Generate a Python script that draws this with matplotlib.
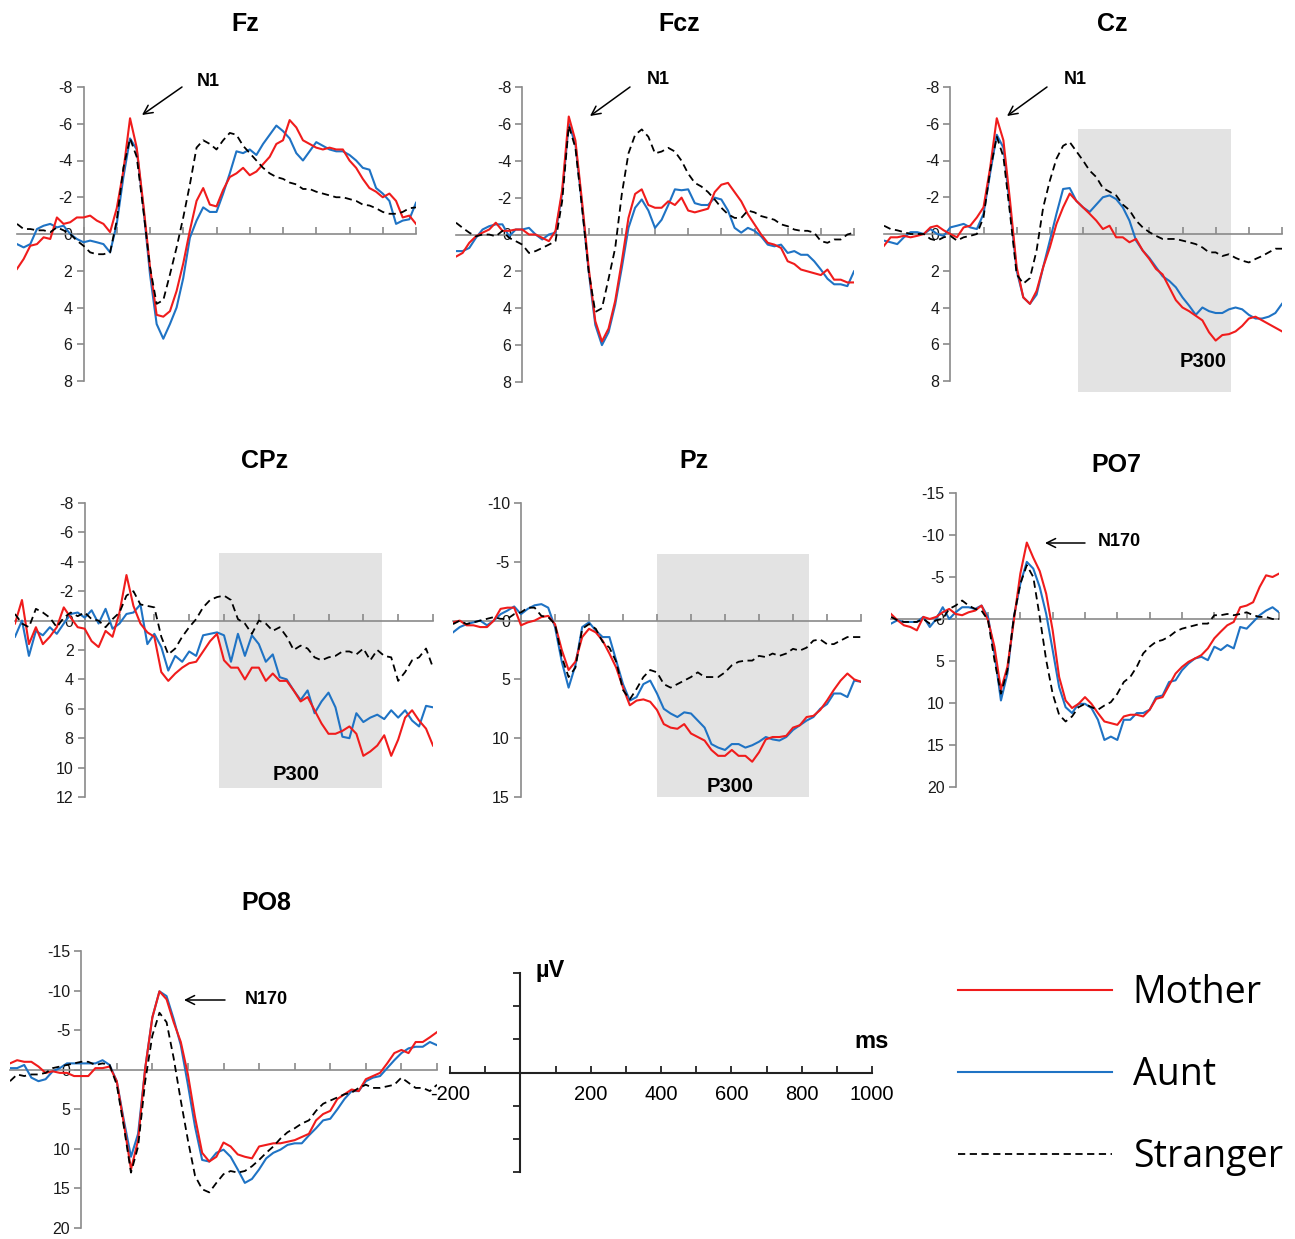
import matplotlib
matplotlib.use("Agg")
import matplotlib.pyplot as plt
from matplotlib.patches import Rectangle

plt.rcParams['font.family'] = ['Liberation Sans', 'DejaVu Sans']
plt.rcParams['axes.unicode_minus'] = False

W, H = 1295, 1239

# time axis (ms), one sample every 20 ms
times = list(range(-200, 1001, 20))

# ---- Fz ----
fz_mother = [1.9, 1.36, 0.64, 0.55, 0.18, 0.27, -0.9, -0.55, -0.64, -0.9,
             -0.9, -1.0, -0.73, -0.55, -0.1, -1.4, -3.45, -6.3, -4.7, -1.6,
             1.8, 4.4, 4.5, 4.2, 3.1, 1.6, -0.2, -1.8, -2.5, -1.6,
             -1.5, -2.4, -3.1, -3.3, -3.6, -3.2, -3.4, -3.8, -4.2, -4.9,
             -5.1, -6.2, -5.8, -5.1, -4.9, -4.7, -4.6, -4.7, -4.6, -4.6,
             -4.0, -3.6, -3.0, -2.5, -2.3, -2.0, -2.2, -1.8, -0.9, -1.0,
             -0.55]
fz_aunt = [0.55, 0.73, 0.55, -0.27, -0.45, -0.55, -0.36, -0.45, 0, 0.27,
           0.45, 0.36, 0.45, 0.55, 1.0, -0.55, -3.1, -5.2, -4.6, -1.45,
           2.2, 4.9, 5.7, 4.9, 4.0, 2.4, 0.2, -0.73, -1.45, -1.2,
           -1.2, -2.2, -3.3, -4.5, -4.4, -4.6, -4.3, -4.9, -5.4, -5.9,
           -5.6, -5.2, -4.4, -4.0, -4.5, -5.0, -4.8, -4.6, -4.5, -4.5,
           -4.3, -4.0, -3.6, -3.5, -2.5, -2.2, -1.8, -0.55, -0.73, -0.8,
           -1.7]
fz_stranger = [-0.55, -0.27, -0.27, -0.2, -0.2, -0.1, -0.36, -0.2, 0, 0.36,
               0.64, 1.0, 1.1, 1.1, 1.0, -0.73, -3.6, -5.2, -4.2, -1.3,
               1.8, 3.8, 3.6, 2.2, 0.73, -0.9, -2.7, -4.7, -5.1, -4.9,
               -4.6, -5.1, -5.5, -5.4, -4.8, -4.4, -4.0, -3.6, -3.3, -3.1,
               -3.0, -2.8, -2.7, -2.45, -2.45, -2.3, -2.2, -2.1, -2.0, -2.0,
               -1.9, -1.8, -1.6, -1.55, -1.4, -1.2, -1.1, -1.1, -1.2, -1.4,
               -1.45]

# ---- Fcz ----
fcz_mother = [1.2, 1.0, 0.45, 0.1, -0.1, -0.27, -0.64, -0.2, -0.2, -0.27,
              -0.27, 0, 0, 0.18, 0.36, -0.2, -2.4, -6.4, -5.1, -1.8,
              1.8, 4.7, 5.8, 5.1, 3.6, 1.45, -0.9, -2.2, -2.45, -1.6,
              -1.45, -1.45, -1.8, -1.6, -2.0, -1.3, -1.2, -1.3, -1.4, -2.3,
              -2.7, -2.8, -2.3, -1.8, -1.1, -0.55, 0, 0.45, 0.55, 0.73,
              1.45, 1.6, 1.9, 2.0, 2.1, 2.2, 1.9, 2.45, 2.45, 2.6,
              2.6]
fcz_aunt = [0.9, 0.9, 0.73, 0.18, -0.27, -0.45, -0.55, -0.55, 0.1, -0.27,
            -0.27, -0.36, 0, 0.27, 0, -0.1, -2.2, -6.0, -4.9, -1.6,
            2.0, 4.9, 6.0, 5.3, 3.8, 1.8, -0.36, -1.45, -1.9, -1.3,
            -0.36, -0.8, -1.6, -2.45, -2.4, -2.45, -1.7, -1.6, -1.6, -2.0,
            -1.9, -1.3, -0.36, -0.1, -0.36, -0.2, 0.1, 0.55, 0.64, 0.55,
            1.0, 0.9, 1.1, 1.1, 1.45, 1.9, 2.4, 2.7, 2.7, 2.8,
            2.0]
fcz_stranger = [-0.64, -0.36, -0.1, 0.1, 0, 0, 0.1, -0.2, 0.18, 0.36,
                0.55, 1.0, 0.9, 0.73, 0.55, 0.36, -1.8, -5.9, -4.7, -1.45,
                2.0, 4.2, 4.0, 2.4, 0.73, -2.2, -4.4, -5.4, -5.7, -5.3,
                -4.4, -4.5, -4.7, -4.5, -4.0, -3.3, -2.8, -2.6, -2.3, -1.9,
                -1.45, -1.1, -0.9, -0.9, -1.3, -1.2, -1.0, -0.9, -0.8, -0.55,
                -0.45, -0.27, -0.2, -0.2, -0.1, 0.36, 0.45, 0.27, 0.27, 0,
                -0.1]

# ---- Cz ----
cz_mother = [0.64, 0.18, 0.18, 0.1, 0.18, 0.1, 0, -0.36, -0.45, -0.2,
             0, 0.18, -0.36, -0.45, -0.9, -1.45, -3.6, -6.3, -5.1, -1.8,
             1.8, 3.45, 3.8, 3.1, 1.8, 0.73, -0.55, -1.45, -2.2, -1.8,
             -1.45, -1.1, -0.73, -0.27, -0.45, 0.18, 0.18, 0.45, 0.27, 0.9,
             1.36, 1.9, 2.2, 2.9, 3.6, 4.0, 4.2, 4.45, 4.7, 5.35,
             5.8, 5.5, 5.45, 5.3, 5.0, 4.6, 4.5, 4.7, 4.9, 5.1,
             5.3]
cz_aunt = [0.36, 0.45, 0.55, 0.18, -0.1, -0.1, 0, -0.27, 0, 0.1,
           -0.36, -0.45, -0.55, -0.36, -0.27, -1.1, -3.3, -5.4, -4.7, -1.45,
           2.0, 3.45, 3.8, 3.3, 1.8, 0.36, -1.1, -2.45, -2.5, -1.8,
           -1.45, -1.2, -1.6, -2.0, -2.1, -1.9, -1.45, -0.73, 0.36, 0.9,
           1.3, 1.8, 2.3, 2.55, 2.9, 3.45, 3.9, 4.4, 4.0, 4.2,
           4.3, 4.3, 4.1, 4.0, 4.1, 4.4, 4.6, 4.6, 4.5, 4.3,
           3.8]
cz_stranger = [-0.45, -0.27, -0.2, -0.1, 0, 0, 0, 0.27, 0.36, 0.18,
               0.1, 0.36, 0.18, 0.1, 0, -0.9, -3.45, -5.3, -4.2, -1.1,
               2.2, 2.7, 2.4, 0.9, -1.45, -2.9, -4.1, -4.8, -5.0, -4.5,
               -4.0, -3.45, -3.1, -2.5, -2.3, -2.1, -1.6, -1.3, -0.73, -0.36,
               -0.1, 0.1, 0.27, 0.27, 0.27, 0.36, 0.45, 0.55, 0.73, 1.0,
               1.0, 1.2, 1.1, 1.3, 1.45, 1.55, 1.36, 1.2, 1.0, 0.8,
               0.8]

# ---- CPz ----
cpz_mother = [0.2, -1.4, 1.6, 0.45, 1.6, 1.1, 0.45, -0.9, -0.2, 0.45,
              0.55, 1.4, 1.8, 0.7, 1.1, -0.55, -3.1, -1.0, 0.2, 0.8,
              1.1, 3.5, 4.1, 3.6, 3.2, 2.9, 2.8, 2.1, 1.4, 0.9,
              2.7, 3.2, 3.2, 4.0, 3.2, 3.2, 4.1, 3.6, 4.1, 4.1,
              4.75, 5.5, 5.2, 6.1, 7.0, 7.7, 7.7, 7.5, 7.2, 7.7,
              9.2, 8.9, 8.5, 7.8, 9.2, 8.1, 6.6, 6.1, 6.8, 7.35,
              8.5]
cpz_aunt = [1.1, 0, 2.4, 0.7, 1.0, 0.45, 0.9, 0.2, -0.45, -0.55,
            -0.2, -0.7, 0.2, -0.8, 0.55, 0.2, -0.45, -0.55, -1.1, 1.6,
            0.9, 1.8, 3.4, 2.4, 2.8, 2.1, 2.4, 1.0, 0.9, 0.8,
            1.0, 2.8, 0.9, 2.4, 1.0, 1.6, 2.8, 2.3, 3.85, 4.0,
            4.75, 5.4, 4.75, 6.3, 5.5, 4.9, 5.9, 7.9, 8.0, 6.3,
            6.9, 6.6, 6.4, 6.7, 6.1, 6.6, 6.1, 6.8, 7.2, 5.8,
            5.9]
cpz_stranger = [-0.45, 0.2, 0.45, -0.8, -0.55, -0.2, 0.45, -0.2, -0.55, -0.3,
                -0.55, -0.1, 0, 0.45, -0.1, -0.55, -1.7, -2.0, -1.1, -1.0,
                -0.9, 1.1, 2.3, 1.9, 1.1, 0.45, -0.1, -0.9, -1.4, -1.6,
                -1.7, -1.4, -0.1, 0.2, 0.9, 0, 0.2, 0.7, 0.45, 1.1,
                2.0, 1.7, 1.9, 2.5, 2.7, 2.5, 2.4, 2.1, 2.1, 2.3,
                1.9, 2.7, 2.0, 2.4, 2.5, 4.1, 3.5, 2.7, 2.5, 1.9,
                3.2]

# ---- Pz ----
pz_mother = [0.15, 0, 0.4, 0.4, 0.55, 0.55, 0, -1.0, -1.1, -1.1,
             0.4, 0.15, 0, -0.3, -0.4, 0.3, 2.5, 4.2, 3.5, 1.4,
             0.7, 1.0, 1.7, 2.8, 4.0, 5.7, 7.2, 6.8, 6.7, 6.9,
             7.6, 8.8, 9.1, 9.2, 8.8, 9.6, 9.9, 10.2, 11.0, 11.5,
             11.5, 11.0, 11.5, 11.5, 12.0, 11.2, 10.1, 9.9, 9.9, 9.8,
             9.1, 8.9, 8.2, 8.1, 7.6, 6.8, 5.9, 5.1, 4.5, 5.0,
             5.2]
pz_aunt = [1.0, 0.55, 0.3, 0.15, 0, 0.4, 0, -0.55, -0.85, -1.2,
           -0.55, -1.0, -1.3, -1.4, -1.1, 0.55, 3.5, 5.7, 3.8, 0.55,
           0.15, 0.85, 1.4, 1.4, 3.4, 5.4, 6.8, 6.5, 5.4, 5.1,
           6.2, 7.5, 7.9, 8.2, 7.8, 7.9, 8.5, 9.1, 10.5, 10.8,
           11.0, 10.5, 10.5, 10.8, 10.6, 10.3, 9.9, 10.1, 10.2, 9.9,
           9.3, 8.9, 8.5, 8.2, 7.5, 7.1, 6.2, 6.2, 6.5, 5.1,
           5.2]
pz_stranger = [0.3, 0, 0.3, 0.15, 0, -0.15, -0.3, -0.15, -0.15, -0.55,
               -0.7, -1.1, -1.1, -0.4, -0.3, 0.3, 3.1, 4.8, 4.0, 0.7,
               0.3, 0.7, 1.8, 2.3, 3.5, 5.9, 6.7, 5.8, 4.8, 4.2,
               4.4, 5.4, 5.7, 5.4, 5.1, 4.8, 4.4, 4.8, 4.8, 4.8,
               4.4, 3.8, 3.5, 3.4, 3.4, 3.0, 3.1, 2.8, 3.0, 2.8,
               2.4, 2.55, 2.3, 1.7, 1.6, 2.0, 2.0, 1.7, 1.4, 1.4,
               1.4]

# ---- PO7 ----
po7_mother = [-0.6, 0.15, 0.75, 0.95, 1.35, -0.25, 0, -0.25, -0.8, -1.2,
              -0.6, -0.45, -0.8, -1.0, -1.6, 0.15, 3.3, 8.4, 5.7, 0.15,
              -5.4, -9.1, -7.3, -5.7, -3.0, 1.35, 6.9, 9.7, 10.6, 10.1,
              9.3, 10.1, 11.2, 12.2, 12.4, 12.6, 11.6, 11.4, 11.4, 11.6,
              10.8, 9.5, 9.3, 7.9, 6.5, 5.7, 5.1, 4.7, 4.3, 3.5,
              2.3, 1.5, 0.75, 0.35, -1.4, -1.6, -2.0, -3.8, -5.2, -5.0,
              -5.4]
po7_aunt = [0.55, 0.15, 0.35, 0.35, 0.35, -0.25, 0.95, 0, -1.4, 0,
            -0.8, -1.4, -1.4, -1.2, -1.6, -0.25, 4.1, 9.7, 6.5, -0.25,
            -4.2, -6.8, -6.0, -3.8, -0.6, 3.7, 8.1, 10.5, 11.2, 10.1,
            10.1, 10.6, 12.0, 14.4, 14.0, 14.4, 12.0, 12.0, 11.2, 11.2,
            10.8, 9.3, 9.1, 7.5, 7.3, 6.1, 5.3, 4.7, 4.5, 4.9,
            3.3, 3.7, 3.1, 3.5, 0.95, 1.15, 0.35, -0.45, -1.0, -1.4,
            -0.8]
po7_stranger = [-0.25, 0.15, 0.35, 0.35, 0.35, 0, 0.55, 0.15, 0, -1.2,
                -1.6, -2.2, -1.6, -1.2, -1.0, 0.15, 4.9, 8.9, 6.1, -0.25,
                -4.2, -6.4, -5.0, -0.25, 4.9, 8.9, 11.4, 12.2, 11.6, 10.5,
                10.1, 10.5, 10.8, 10.3, 9.9, 8.9, 7.5, 6.9, 5.7, 4.1,
                3.3, 2.7, 2.5, 2.1, 1.5, 1.15, 0.95, 0.75, 0.55, 0.55,
                -0.45, -0.45, -0.6, -0.45, -0.6, -0.8, -0.45, -0.25, -0.25, 0,
                0]

# ---- PO8 ----
po8_mother = [-0.8, -1.2, -1.0, -1.0, -0.4, 0.4, 0.2, 0.4, 0.4, 0.8,
              0.8, 0.8, -0.2, -0.2, -0.4, 1.45, 6.8, 12.6, 8.9, -0.2,
              -6.6, -9.9, -8.9, -6.0, -3.5, 0.6, 6.0, 10.5, 11.6, 11.0,
              9.2, 9.7, 10.7, 11.0, 11.2, 9.7, 9.5, 9.3, 9.3, 9.1,
              8.9, 8.5, 8.1, 6.4, 5.6, 5.2, 3.7, 3.1, 2.5, 2.7,
              1.2, 0.8, 0.4, -0.8, -2.1, -2.5, -2.1, -3.5, -3.5, -4.1,
              -4.75]
po8_aunt = [-0.2, -0.2, -0.6, 1.0, 1.45, 1.2, 0.2, -0.2, -0.8, -0.8,
            -0.8, -0.8, -0.8, -1.2, -0.6, 1.45, 6.4, 11.0, 8.1, -0.2,
            -6.6, -9.9, -9.3, -6.4, -3.1, 1.9, 7.2, 11.4, 11.6, 10.5,
            10.1, 11.0, 12.6, 14.3, 13.8, 12.6, 11.2, 10.5, 10.1, 9.5,
            9.3, 9.3, 8.3, 7.4, 6.4, 6.2, 5.0, 3.7, 2.7, 2.7,
            1.45, 1.0, 0.8, -0.2, -1.2, -2.1, -2.7, -2.9, -2.9, -3.5,
            -3.1]
po8_stranger = [1.45, 0.6, 0.8, 0.6, 0.6, 0.4, -0.2, -0.4, -0.6, -0.8,
                -1.0, -1.0, -0.6, -0.8, -0.6, 1.9, 7.2, 13.0, 9.7, 1.45,
                -4.3, -7.2, -6.0, -1.45, 3.9, 8.9, 13.4, 15.1, 15.5, 14.3,
                13.2, 12.8, 13.0, 12.8, 12.2, 11.4, 10.5, 9.7, 8.7, 7.9,
                7.4, 6.8, 6.4, 5.2, 4.3, 3.9, 3.5, 3.1, 2.9, 2.3,
                1.9, 2.3, 2.3, 2.1, 1.9, 1.0, 1.65, 2.3, 2.3, 2.7,
                1.9]

# y tick labels of each panel (top to bottom)
yt_8 = [-8, -6, -4, -2, 0, 2, 4, 6, 8]
yt_cpz = [-8, -6, -4, -2, 0, 2, 4, 6, 8, 10, 12]
yt_pz = [-10, -5, 0, 5, 10, 15]
yt_po = [-15, -10, -5, 0, 5, 10, 15, 20]

# P300 windows: (start ms, end ms, top uV, bottom uV)
cz_p300 = (385, 846, -5.7, 8.6)
cpz_p300 = (387, 854, -4.6, 11.4)
pz_p300 = (400, 847, -5.7, 15.0)

labels = ['Mother', 'Aunt', 'Stranger']

RED = '#f01c1c'
BLUE = '#1f73c4'
GRAY = '#8a8a8a'

fig = plt.figure(figsize=(W / 100, H / 100), dpi=100)


def fp(x, y):
    return (x / W, 1 - y / H)


def make_axes(x0, x1, y0, y1):
    return fig.add_axes([x0 / W, 1 - y1 / H, (x1 - x0) / W, (y1 - y0) / H])


def erp_panel(box, title, title_xy, mother, aunt, stranger, yticks, p300=None):
    ax = make_axes(*box)
    ax.patch.set_alpha(0)
    ax.set_xlim(-200, 1000)
    ax.set_ylim(yticks[-1], yticks[0])
    for s in ['top', 'right']:
        ax.spines[s].set_visible(False)
    for s in ['left', 'bottom']:
        ax.spines[s].set_position(('data', 0))
        ax.spines[s].set_color(GRAY)
        ax.spines[s].set_linewidth(1.2)
    ax.set_xticks(range(0, 1001, 100))
    ax.set_xticklabels([])
    ax.set_yticks(yticks)
    ax.set_yticklabels([str(v) for v in yticks])
    ax.tick_params(axis='x', direction='in', length=5, width=1.2, color=GRAY)
    ax.tick_params(axis='y', direction='out', length=5, width=1.2, color=GRAY,
                   labelsize=11.5, labelcolor='#1a1a1a', pad=3)
    if p300 is not None:
        t0, t1, v0, v1 = p300
        ax.add_patch(Rectangle((t0, v0), t1 - t0, v1 - v0, facecolor='#e3e3e3',
                               edgecolor='none', zorder=0, clip_on=False))
    lb, = ax.plot(times, aunt, color=BLUE, lw=1.5, zorder=3)
    lr, = ax.plot(times, mother, color=RED, lw=1.5, zorder=3)
    lk, = ax.plot(times, stranger, color='black', lw=1.3, ls=(0, (4, 2.5)), zorder=4)
    fig.text(*fp(*title_xy), title, ha='center', va='center', fontsize=18,
             fontweight='bold')
    return ax, (lr, lb, lk)


ax_fz, handles = erp_panel((17, 416, 87, 381), 'Fz', (245, 24),
                           fz_mother, fz_aunt, fz_stranger, yt_8)
erp_panel((456, 854, 87, 382), 'Fcz', (679, 24),
          fcz_mother, fcz_aunt, fcz_stranger, yt_8)
erp_panel((884, 1282, 87, 381), 'Cz', (1112, 24),
          cz_mother, cz_aunt, cz_stranger, yt_8, cz_p300)
erp_panel((15, 433, 503, 797), 'CPz', (265, 461),
          cpz_mother, cpz_aunt, cpz_stranger, yt_cpz, cpz_p300)
erp_panel((453, 861, 503, 797), 'Pz', (694, 461),
          pz_mother, pz_aunt, pz_stranger, yt_pz, pz_p300)
erp_panel((891, 1279, 493, 787), 'PO7', (1116, 465),
          po7_mother, po7_aunt, po7_stranger, yt_po)
erp_panel((10, 437, 951, 1228), 'PO8', (266, 903),
          po8_mother, po8_aunt, po8_stranger, yt_po)

# component labels and arrows
def mark(text, text_xy, tail, tip, size=13):
    fig.text(*fp(*text_xy), text, ha='center', va='center', fontsize=size,
             fontweight='bold')
    if tail is not None:
        ax_fz.annotate('', xy=fp(*tip), xytext=fp(*tail),
                       xycoords='figure fraction', textcoords='figure fraction',
                       arrowprops=dict(arrowstyle='->', lw=1.1, color='black',
                                       mutation_scale=16, shrinkA=0, shrinkB=0),
                       annotation_clip=False)


mark('N1', (208, 81), (182, 87), (142, 115))
mark('N1', (658, 80), (630, 87), (590, 116))
mark('N1', (1075, 80), (1047, 87), (1007, 116))
mark('N170', (1119, 541), (1085, 543), (1045, 543))
mark('N170', (266, 1000), (225, 1000), (184, 1000))
mark('P300', (1203, 362), None, None, 14.5)
mark('P300', (296, 775), None, None, 14.5)
mark('P300', (730, 786), None, None, 14.5)

# scale bar axes
ax_s = make_axes(450, 872, 973, 1172)
ax_s.patch.set_alpha(0)
ax_s.set_xlim(-200, 1000)
ax_s.set_ylim(3, -3)
for s in ['top', 'right']:
    ax_s.spines[s].set_visible(False)
for s in ['left', 'bottom']:
    ax_s.spines[s].set_position(('data', 0))
    ax_s.spines[s].set_color('#222222')
    ax_s.spines[s].set_linewidth(1.5)
ax_s.set_xticks([-200, 200, 400, 600, 800, 1000])
ax_s.set_xticklabels(['-200', '200', '400', '600', '800', '1000'])
ax_s.set_xticks(range(-200, 1001, 100), minor=True)
ax_s.set_yticks(range(-3, 4))
ax_s.set_yticklabels([])
ax_s.tick_params(axis='x', which='both', direction='in', length=5, width=1.3,
                 color='#222222', labelsize=14.5, pad=9)
ax_s.tick_params(axis='y', direction='out', length=5, width=1.3, color='#222222')
fig.text(*fp(550, 970), 'µV', ha='center', va='center', fontsize=17,
         fontweight='bold')
fig.text(*fp(872, 1042), 'ms', ha='center', va='center', fontsize=17,
         fontweight='bold')

fig.legend(handles, labels, loc='center left', bbox_to_anchor=fp(958, 1075),
           bbox_transform=fig.transFigure, frameon=False,
           prop=dict(family='Open Sans', size=27), handlelength=4.1,
           handletextpad=0.56, labelspacing=1.17, borderpad=0, borderaxespad=0)

fig.savefig('out.png', dpi=100)
